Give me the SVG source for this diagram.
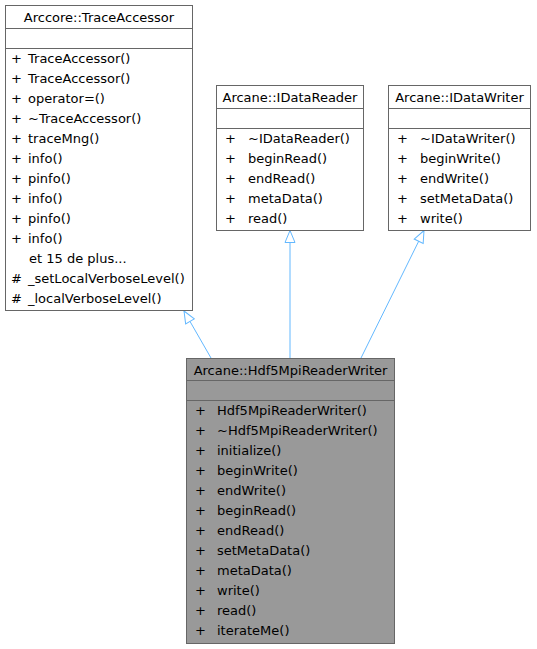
<svg xmlns="http://www.w3.org/2000/svg" width="537" height="649" viewBox="0 0 537 649">
<style>
text{font-family:"DejaVu Sans",sans-serif;font-size:13px;fill:#000}
.t{text-anchor:middle}
.box{fill:#fff;stroke:#666;stroke-width:1}
.cur{fill:#999;stroke:#666;stroke-width:1}
.sep{stroke:#666;stroke-width:1}
.edge{stroke:#63b8ff;stroke-width:1;fill:none}
</style>
<defs>
<marker id="inh" viewBox="-1 -1 14 12" refX="12" refY="5" markerWidth="14" markerHeight="12" markerUnits="userSpaceOnUse" orient="auto">
<path d="M0,0 L12,5 L0,10 Z" fill="#fff" stroke="#63b8ff" stroke-width="1"/>
</marker>
</defs>
<rect width="537" height="649" fill="#fff"/>
<g id="edges">
<line class="edge" x1="211" y1="358" x2="184" y2="311" marker-end="url(#inh)"/>
<line class="edge" x1="290" y1="358" x2="290" y2="230.5" marker-end="url(#inh)"/>
<line class="edge" x1="361" y1="358" x2="424" y2="230.5" marker-end="url(#inh)"/>
</g>
<g id="TraceAccessor">
<rect class="box" x="5.5" y="5.5" width="187" height="305"/>
<line class="sep" x1="5.5" y1="28.5" x2="192.5" y2="28.5"/>
<line class="sep" x1="5.5" y1="48.5" x2="192.5" y2="48.5"/>
<text class="t" x="99" y="22">Arccore::TraceAccessor</text>
<text x="11" y="63">+</text><text x="28" y="63">TraceAccessor()</text>
<text x="11" y="83">+</text><text x="28" y="83">TraceAccessor()</text>
<text x="11" y="103">+</text><text x="28" y="103">operator=()</text>
<text x="11" y="123">+</text><text x="28" y="123">~TraceAccessor()</text>
<text x="11" y="143">+</text><text x="28" y="143">traceMng()</text>
<text x="11" y="163">+</text><text x="28" y="163">info()</text>
<text x="11" y="183">+</text><text x="28" y="183">pinfo()</text>
<text x="11" y="203">+</text><text x="28" y="203">info()</text>
<text x="11" y="223">+</text><text x="28" y="223">pinfo()</text>
<text x="11" y="243">+</text><text x="28" y="243">info()</text>
<text x="29" y="263">et 15 de plus...</text>
<text x="11" y="283">#</text><text x="28" y="283">_setLocalVerboseLevel()</text>
<text x="11" y="303">#</text><text x="28" y="303">_localVerboseLevel()</text>
</g>
<g id="IDataReader">
<rect class="box" x="216.5" y="85.5" width="147" height="145"/>
<line class="sep" x1="216.5" y1="108.5" x2="363.5" y2="108.5"/>
<line class="sep" x1="216.5" y1="128.5" x2="363.5" y2="128.5"/>
<text class="t" x="290" y="102">Arcane::IDataReader</text>
<text x="225" y="143">+</text><text x="248" y="143">~IDataReader()</text>
<text x="225" y="163">+</text><text x="248" y="163">beginRead()</text>
<text x="225" y="183">+</text><text x="248" y="183">endRead()</text>
<text x="225" y="203">+</text><text x="248" y="203">metaData()</text>
<text x="225" y="223">+</text><text x="248" y="223">read()</text>
</g>
<g id="IDataWriter">
<rect class="box" x="388.5" y="85.5" width="142" height="145"/>
<line class="sep" x1="388.5" y1="108.5" x2="530.5" y2="108.5"/>
<line class="sep" x1="388.5" y1="128.5" x2="530.5" y2="128.5"/>
<text class="t" x="459.5" y="102">Arcane::IDataWriter</text>
<text x="397" y="143">+</text><text x="420" y="143">~IDataWriter()</text>
<text x="397" y="163">+</text><text x="420" y="163">beginWrite()</text>
<text x="397" y="183">+</text><text x="420" y="183">endWrite()</text>
<text x="397" y="203">+</text><text x="420" y="203">setMetaData()</text>
<text x="397" y="223">+</text><text x="420" y="223">write()</text>
</g>
<g id="Hdf5MpiReaderWriter">
<rect class="cur" x="186.5" y="358.5" width="208" height="285"/>
<line class="sep" x1="186.5" y1="380.5" x2="394.5" y2="380.5"/>
<line class="sep" x1="186.5" y1="400.5" x2="394.5" y2="400.5"/>
<text class="t" x="290.5" y="375">Arcane::Hdf5MpiReaderWriter</text>
<text x="195" y="415">+</text><text x="217" y="415">Hdf5MpiReaderWriter()</text>
<text x="195" y="435">+</text><text x="217" y="435">~Hdf5MpiReaderWriter()</text>
<text x="195" y="455">+</text><text x="217" y="455">initialize()</text>
<text x="195" y="475">+</text><text x="217" y="475">beginWrite()</text>
<text x="195" y="495">+</text><text x="217" y="495">endWrite()</text>
<text x="195" y="515">+</text><text x="217" y="515">beginRead()</text>
<text x="195" y="535">+</text><text x="217" y="535">endRead()</text>
<text x="195" y="555">+</text><text x="217" y="555">setMetaData()</text>
<text x="195" y="575">+</text><text x="217" y="575">metaData()</text>
<text x="195" y="595">+</text><text x="217" y="595">write()</text>
<text x="195" y="615">+</text><text x="217" y="615">read()</text>
<text x="195" y="635">+</text><text x="217" y="635">iterateMe()</text>
</g>
</svg>
